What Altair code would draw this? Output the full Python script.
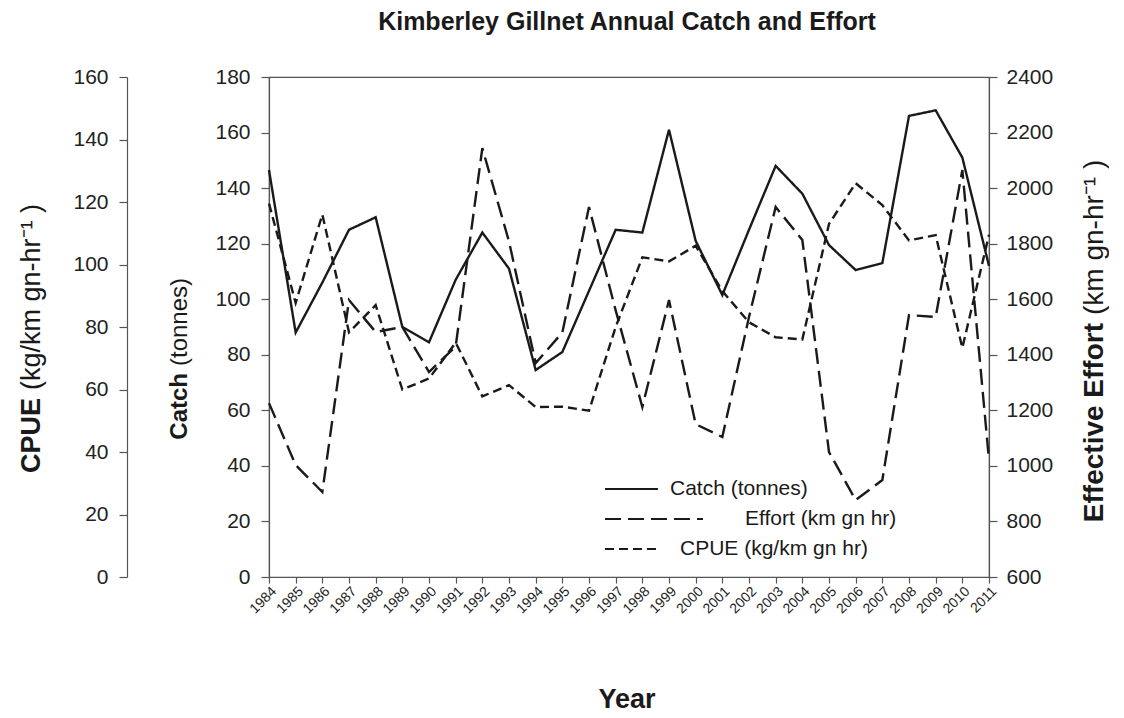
import altair as alt
import pandas as pd

years = list(range(1984, 2012))
catch_t = [146.5, 88, 106, 125, 129.5, 90, 84.5, 107, 124, 111, 74.5, 81, 103, 125,
           124, 161, 121, 101.5, 125, 148, 138, 119.5, 110.5, 113, 166, 168, 151, 112]
effort = [1226, 1003, 906, 1597, 1482, 1500, 1338, 1430, 2144, 1808, 1370, 1480, 1932, 1560,
          1212, 1597, 1150, 1104, 1536, 1932, 1813, 1050, 877, 949, 1543, 1536, 2065, 1021]
cpue = [119.5, 87.7, 116, 78.3, 87, 60, 63.5, 75, 57.8, 61.4, 54.4, 54.5, 53.2, 80,
        102.3, 101, 106, 91.5, 81.5, 76.7, 76, 113, 126, 119, 107.7, 109.4, 73.3, 109.5]

series_names = ["Catch (tonnes)", "Effort (km gn hr)", "CPUE (kg/km gn hr)"]
dash_patterns = [[1, 0], [16, 7], [9, 5]]

catch_ticks = list(range(0, 181, 20))
effort_ticks = list(range(600, 2401, 200))
cpue_ticks = list(range(0, 161, 20))

chart_title = ["Kimberley Gillnet Annual Catch and Effort"]
x_title = ["Year"]
cpue_title = ["CPUE", "(kg/km gn-hr\u207b\u00b9 )"]
catch_title = ["Catch", "(tonnes)"]
effort_title = ["Effective Effort", "(km gn-hr\u207b\u00b9 )"]

FONT = "Liberation Sans"
INK = "#1a1a1a"
AX = "#555555"

df_catch = pd.DataFrame({"Year": years, "Value": catch_t, "Series": series_names[0]})
df_effort = pd.DataFrame({"Year": years, "Value": effort, "Series": series_names[1]})
df_cpue = pd.DataFrame({"Year": years, "Value": cpue, "Series": series_names[2]})

dash_scale = alt.Scale(domain=series_names, range=dash_patterns)

x_enc = alt.X("Year:Q",
              scale=alt.Scale(domain=[1984, 2011], nice=False, zero=False),
              axis=alt.Axis(values=years, format="d", labelAngle=315, labelAlign="right",
                            labelBaseline="top", labelFontSize=14, tickSize=6, title=None,
                            grid=False, labelPadding=1, labelOverlap=False, labelFlush=False,
                            labelBound=False))

def yaxis(vals, orient, offset=0, pad=11):
    return alt.Axis(orient=orient, values=vals, offset=offset, title=None, grid=False,
                    format="d", tickSize=8, labelFontSize=21, labelPadding=pad,
                    labelFont=FONT, labelColor="#222222", domainColor=AX, tickColor=AX,
                    labelFlush=False, labelBound=False)

def series_line(data, domain, axis):
    return alt.Chart(data).mark_line(color=INK, strokeWidth=2.4).encode(
        x=x_enc,
        y=alt.Y("Value:Q", scale=alt.Scale(domain=domain, nice=False, zero=False), axis=axis),
        strokeDash=alt.StrokeDash("Series:N", scale=dash_scale, legend=None),
    )

catch_line = series_line(df_catch, [0, 180], yaxis(catch_ticks, "left", 0, 11))
effort_line = series_line(df_effort, [600, 2400], yaxis(effort_ticks, "right", 0, 9))
cpue_line = series_line(df_cpue, [0, 160], yaxis(cpue_ticks, "left", 142, 11))

def label(text, x, y, size, bold, angle=0, align="center"):
    kw = dict(font=FONT, fontSize=size, fontWeight="bold" if bold else "normal",
              color=INK, align=align, baseline="middle")
    if angle:
        kw["angle"] = angle
    return alt.Chart(pd.DataFrame({"t": [text]})).mark_text(**kw).encode(
        text="t:N", x=alt.value(x), y=alt.value(y))

def legend_item(i, x0, x1, y, tx):
    sym = alt.Chart(pd.DataFrame({"s": [series_names[i]]})).mark_rule(
        color=INK, strokeWidth=2.2, strokeDash=dash_patterns[i]
    ).encode(x=alt.value(x0), x2=alt.value(x1), y=alt.value(y))
    txt = label(series_names[i], tx, y, 21, False, 0, "left")
    return [sym, txt]

legend_layers = (legend_item(0, 336, 389, 412, 401)
                 + legend_item(1, 336, 434, 442, 476)
                 + legend_item(2, 336, 387, 472, 411))

texts = [
    label(chart_title[0], 358, -55, 25, True),
    label(x_title[0], 358, 623, 27, True),
    label(cpue_title[0], -237, 321, 27, True, 270, "right"),
    label(cpue_title[1], -237, 313, 27, False, 270, "left"),
    label(catch_title[0], -89, 296, 24, True, 270, "right"),
    label(catch_title[1], -89, 289, 24, False, 270, "left"),
    label(effort_title[0], 826, 246, 28, True, 270, "right"),
    label(effort_title[1], 826, 238, 28, False, 270, "left"),
]

chart = alt.layer(catch_line, effort_line, cpue_line, *legend_layers, *texts).resolve_scale(
    y="independent", strokeDash="shared"
).properties(
    width=720, height=500,
    autosize=alt.AutoSizeParams(type="none"),
    padding={"left": 261, "top": 69, "right": 120, "bottom": 141},
    background="white",
).configure_view(stroke=AX, strokeWidth=1.2).configure_axis(
    domainColor=AX, tickColor=AX, domainWidth=1.2, tickWidth=1.2, labelFont=FONT,
    labelColor="#222222"
)

chart.save("out.html", embed_options={"renderer": "svg", "actions": False})
